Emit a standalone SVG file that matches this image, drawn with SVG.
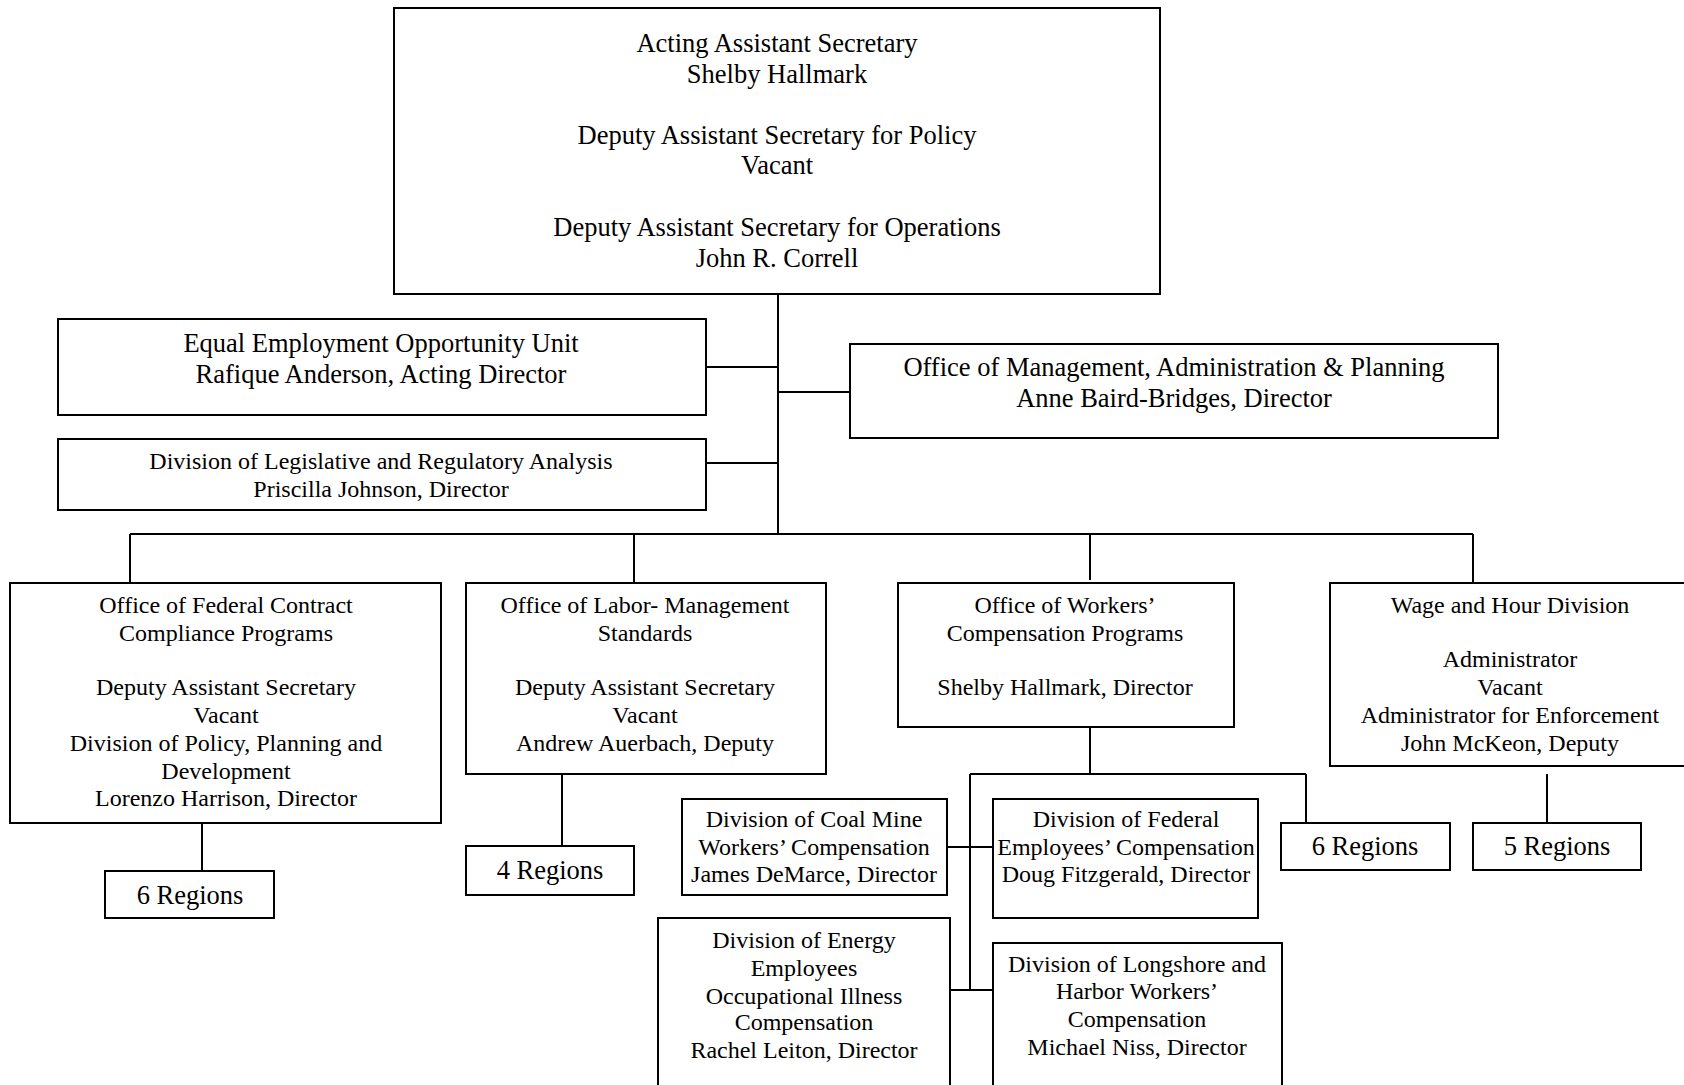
<svg xmlns="http://www.w3.org/2000/svg" width="1684" height="1085" viewBox="0 0 1684 1085">
<style>
rect{fill:#fff;stroke:#000;stroke-width:2}
.c line{stroke:#000;stroke-width:2}
text{font-family:"Liberation Serif","Times New Roman",serif;fill:#000;text-anchor:middle}
.l{font-size:26.5px}
.s{font-size:24px}
</style>
<rect x="0" y="0" width="1684" height="1085" style="stroke:none"/>
<g class="c" id="connectors">
<line x1="778" y1="294" x2="778" y2="534"/>
<line x1="706" y1="367" x2="778" y2="367"/>
<line x1="778" y1="392" x2="850" y2="392"/>
<line x1="706" y1="463" x2="778" y2="463"/>
<line x1="130" y1="534" x2="1473" y2="534"/>
<line x1="130" y1="534" x2="130" y2="583"/>
<line x1="634" y1="534" x2="634" y2="583"/>
<line x1="1090" y1="534" x2="1090" y2="580"/>
<line x1="1473" y1="534" x2="1473" y2="583"/>
<line x1="202" y1="823" x2="202" y2="871"/>
<line x1="562" y1="774" x2="562" y2="846"/>
<line x1="1090" y1="727" x2="1090" y2="774"/>
<line x1="970" y1="774" x2="1306" y2="774"/>
<line x1="1306" y1="774" x2="1306" y2="823"/>
<line x1="970" y1="774" x2="970" y2="990"/>
<line x1="947" y1="847" x2="993" y2="847"/>
<line x1="946" y1="990" x2="993" y2="990"/>
<line x1="1547" y1="774" x2="1547" y2="823"/>
</g>
<g id="top"><rect x="394" y="8" width="766" height="286"/>
<text class="l" x="777" y="52">Acting Assistant Secretary</text>
<text class="l" x="777" y="83">Shelby Hallmark</text>
<text class="l" x="777" y="144">Deputy Assistant Secretary for Policy</text>
<text class="l" x="777" y="174">Vacant</text>
<text class="l" x="777" y="236">Deputy Assistant Secretary for Operations</text>
<text class="l" x="777" y="267">John R. Correll</text></g>
<g id="eeo"><rect x="58" y="319" width="648" height="96"/>
<text class="l" x="381" y="352">Equal Employment Opportunity Unit</text>
<text class="l" x="381" y="383">Rafique Anderson, Acting Director</text></g>
<g id="omap"><rect x="850" y="344" width="648" height="94"/>
<text class="l" x="1174" y="376">Office of Management, Administration &amp; Planning</text>
<text class="l" x="1174" y="407">Anne Baird-Bridges, Director</text></g>
<g id="dlra"><rect x="58" y="439" width="648" height="71"/>
<text class="s" x="381" y="469">Division of Legislative and Regulatory Analysis</text>
<text class="s" x="381" y="497">Priscilla Johnson, Director</text></g>
<g id="ofccp"><rect x="10" y="583" width="431" height="240"/>
<text class="s" x="226" y="613">Office of Federal Contract</text>
<text class="s" x="226" y="641">Compliance Programs</text>
<text class="s" x="226" y="695">Deputy Assistant Secretary</text>
<text class="s" x="226" y="723">Vacant</text>
<text class="s" x="226" y="751">Division of Policy, Planning and</text>
<text class="s" x="226" y="779">Development</text>
<text class="s" x="226" y="806">Lorenzo Harrison, Director</text></g>
<g id="olms"><rect x="466" y="583" width="360" height="191"/>
<text class="s" x="645" y="613">Office of Labor- Management</text>
<text class="s" x="645" y="641">Standards</text>
<text class="s" x="645" y="695">Deputy Assistant Secretary</text>
<text class="s" x="645" y="723">Vacant</text>
<text class="s" x="645" y="751">Andrew Auerbach, Deputy</text></g>
<g id="owcp"><rect x="898" y="583" width="336" height="144"/>
<text class="s" x="1065" y="613">Office of Workers’</text>
<text class="s" x="1065" y="641">Compensation Programs</text>
<text class="s" x="1065" y="695">Shelby Hallmark, Director</text></g>
<g id="whd"><rect x="1330" y="583" width="360" height="183"/>
<text class="s" x="1510" y="613">Wage and Hour Division</text>
<text class="s" x="1510" y="667">Administrator</text>
<text class="s" x="1510" y="695">Vacant</text>
<text class="s" x="1510" y="723">Administrator for Enforcement</text>
<text class="s" x="1510" y="751">John McKeon, Deputy</text></g>
<g id="ofccp-regions"><rect x="105" y="871" width="169" height="47"/>
<text class="l" x="190" y="904">6 Regions</text></g>
<g id="olms-regions"><rect x="466" y="846" width="168" height="49"/>
<text class="l" x="550" y="879">4 Regions</text></g>
<g id="owcp-regions"><rect x="1281" y="823" width="169" height="47"/>
<text class="l" x="1365" y="855">6 Regions</text></g>
<g id="whd-regions"><rect x="1473" y="823" width="168" height="47"/>
<text class="l" x="1557" y="855">5 Regions</text></g>
<g id="coal"><rect x="682" y="799" width="265" height="96"/>
<text class="s" x="814" y="827">Division of Coal Mine</text>
<text class="s" x="814" y="855">Workers’ Compensation</text>
<text class="s" x="814" y="882">James DeMarce, Director</text></g>
<g id="federal"><rect x="993" y="799" width="265" height="119"/>
<text class="s" x="1126" y="827">Division of Federal</text>
<text class="s" x="1126" y="855">Employees’ Compensation</text>
<text class="s" x="1126" y="882">Doug Fitzgerald, Director</text></g>
<g id="energy"><rect x="658" y="918" width="292" height="180"/>
<text class="s" x="804" y="948">Division of Energy</text>
<text class="s" x="804" y="976">Employees</text>
<text class="s" x="804" y="1004">Occupational Illness</text>
<text class="s" x="804" y="1030">Compensation</text>
<text class="s" x="804" y="1058">Rachel Leiton, Director</text></g>
<g id="longshore"><rect x="993" y="943" width="289" height="160"/>
<text class="s" x="1137" y="972">Division of Longshore and</text>
<text class="s" x="1137" y="999">Harbor Workers’</text>
<text class="s" x="1137" y="1027">Compensation</text>
<text class="s" x="1137" y="1055">Michael Niss, Director</text></g>
</svg>
